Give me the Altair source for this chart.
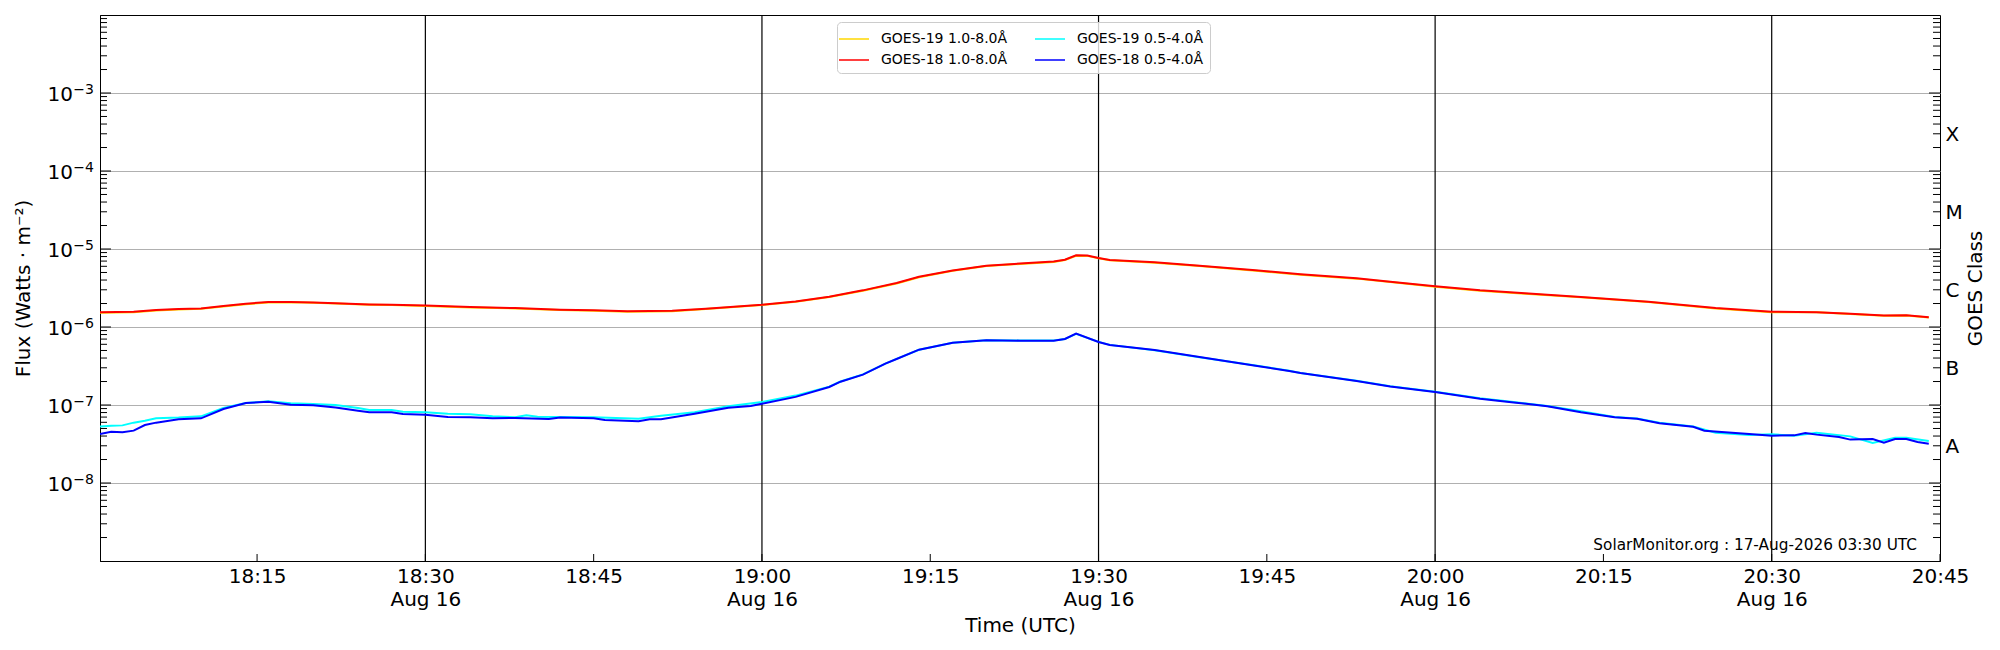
import altair as alt
import pandas as pd

DAY = "2026-08-16"
BASE_HOUR = 18

# ---- data (minutes after 18:00 UTC, flux in W m^-2) ----
G18_LONG_MIN = [1, 4, 6, 8, 10, 12, 14, 16, 18, 20, 22, 25, 27, 30, 34, 38, 42, 45, 48, 52,
                55, 60, 63, 66, 69, 72, 74, 77, 80, 83, 86, 87, 88, 89, 90, 91, 95, 99, 104, 108,
                113, 116, 120, 124, 128, 133, 139, 145, 150, 154, 157, 160, 162, 164]
G18_LONG_FLUX = [1.54e-6, 1.57e-6, 1.65e-6, 1.70e-6, 1.73e-6, 1.86e-6, 1.99e-6, 2.09e-6, 2.09e-6, 2.06e-6,
                 2.02e-6, 1.95e-6, 1.93e-6, 1.88e-6, 1.80e-6, 1.75e-6, 1.67e-6, 1.64e-6, 1.59e-6, 1.61e-6,
                 1.72e-6, 1.93e-6, 2.13e-6, 2.45e-6, 2.95e-6, 3.66e-6, 4.40e-6, 5.30e-6, 6.10e-6, 6.50e-6,
                 6.90e-6, 7.30e-6, 8.30e-6, 8.25e-6, 7.67e-6, 7.25e-6, 6.75e-6, 6.11e-6, 5.33e-6, 4.73e-6,
                 4.21e-6, 3.81e-6, 3.32e-6, 2.95e-6, 2.70e-6, 2.43e-6, 2.11e-6, 1.75e-6, 1.57e-6, 1.55e-6,
                 1.48e-6, 1.40e-6, 1.41e-6, 1.33e-6]

G19_LONG_MIN = G18_LONG_MIN
G19_LONG_FLUX = [1.52e-6, 1.55e-6, 1.63e-6, 1.68e-6, 1.71e-6, 1.83e-6, 1.96e-6, 2.06e-6, 2.07e-6, 2.04e-6,
                 2.00e-6, 1.93e-6, 1.91e-6, 1.86e-6, 1.78e-6, 1.73e-6, 1.65e-6, 1.62e-6, 1.57e-6, 1.59e-6,
                 1.70e-6, 1.91e-6, 2.11e-6, 2.42e-6, 2.92e-6, 3.62e-6, 4.35e-6, 5.25e-6, 6.04e-6, 6.44e-6,
                 6.83e-6, 7.22e-6, 8.20e-6, 8.16e-6, 7.60e-6, 7.18e-6, 6.68e-6, 6.05e-6, 5.28e-6, 4.68e-6,
                 4.17e-6, 3.77e-6, 3.29e-6, 2.92e-6, 2.67e-6, 2.41e-6, 2.09e-6, 1.73e-6, 1.55e-6, 1.54e-6,
                 1.47e-6, 1.39e-6, 1.40e-6, 1.32e-6]

G18_SHORT_MIN = [1, 2, 3, 4, 5, 6, 8, 10, 12, 14, 16, 18, 20, 22, 24, 25, 27, 28, 30, 32,
                 34, 36, 38, 41, 42, 45, 46, 49, 50, 51, 54, 57, 59, 60, 63, 66, 67, 69, 71, 72,
                 74, 77, 80, 83, 86, 87, 88, 90, 91, 95, 99, 104, 107, 108, 113, 116, 120, 124, 127, 130,
                 133, 136, 138, 140, 143, 144, 148, 150, 152, 153, 154, 156, 157, 159, 160, 161, 162, 163, 164]
G18_SHORT_FLUX = [4.25e-8, 4.55e-8, 4.46e-8, 4.69e-8, 5.54e-8, 5.94e-8, 6.55e-8, 6.75e-8, 8.89e-8, 1.06e-7,
                  1.10e-7, 1.01e-7, 9.90e-8, 9.30e-8, 8.45e-8, 8.05e-8, 8.05e-8, 7.67e-8, 7.52e-8, 7.02e-8,
                  6.95e-8, 6.75e-8, 6.81e-8, 6.62e-8, 6.89e-8, 6.75e-8, 6.43e-8, 6.18e-8, 6.55e-8, 6.55e-8,
                  7.74e-8, 9.25e-8, 9.71e-8, 1.04e-7, 1.27e-7, 1.70e-7, 1.99e-7, 2.45e-7, 3.39e-7, 3.89e-7,
                  5.12e-7, 6.30e-7, 6.75e-7, 6.68e-7, 6.68e-7, 7.02e-7, 8.22e-7, 6.43e-7, 5.88e-7, 5.07e-7,
                  4.12e-7, 3.19e-7, 2.73e-7, 2.57e-7, 2.03e-7, 1.73e-7, 1.47e-7, 1.20e-7, 1.08e-7, 9.62e-8,
                  8.05e-8, 6.95e-8, 6.68e-8, 5.82e-8, 5.27e-8, 4.69e-8, 4.25e-8, 4.04e-8, 4.08e-8, 4.38e-8,
                  4.17e-8, 3.89e-8, 3.60e-8, 3.66e-8, 3.29e-8, 3.66e-8, 3.66e-8, 3.36e-8, 3.19e-8]

G19_SHORT_MIN = [1, 2, 3, 4, 5, 6, 8, 10, 12, 14, 16, 18, 20, 22, 24, 25, 27, 28, 30, 32,
                 34, 36, 38, 39, 40, 42, 45, 49, 51, 54, 57, 60, 63, 66, 67, 69, 71, 72, 74, 77,
                 80, 83, 86, 87, 88, 90, 91, 95, 99, 104, 107, 108, 113, 116, 120, 124, 127, 130, 133, 136,
                 138, 140, 143, 145, 148, 150, 152, 154, 157, 159, 161, 162, 164]
G19_SHORT_FLUX = [5.32e-8, 5.40e-8, 5.48e-8, 5.94e-8, 6.30e-8, 6.75e-8, 6.90e-8, 7.16e-8, 9.16e-8, 1.06e-7,
                  1.114e-7, 1.05e-7, 1.03e-7, 1.00e-7, 9.16e-8, 8.63e-8, 8.63e-8, 8.22e-8, 8.05e-8, 7.74e-8,
                  7.59e-8, 7.16e-8, 6.95e-8, 7.38e-8, 7.08e-8, 7.02e-8, 6.95e-8, 6.68e-8, 7.30e-8, 8.05e-8,
                  9.62e-8, 1.09e-7, 1.32e-7, 1.72e-7, 2.00e-7, 2.47e-7, 3.40e-7, 3.90e-7, 5.10e-7, 6.30e-7,
                  6.75e-7, 6.70e-7, 6.70e-7, 7.00e-7, 8.20e-7, 6.45e-7, 5.90e-7, 5.05e-7, 4.10e-7, 3.20e-7,
                  2.75e-7, 2.58e-7, 2.04e-7, 1.74e-7, 1.48e-7, 1.217e-7, 1.09e-7, 9.70e-8, 8.30e-8, 7.00e-8,
                  6.70e-8, 5.94e-8, 5.30e-8, 4.42e-8, 4.12e-8, 4.21e-8, 4.04e-8, 4.42e-8, 3.96e-8, 3.26e-8,
                  3.81e-8, 3.81e-8, 3.45e-8]

G19_LONG = "GOES-19 1.0-8.0Å"
G18_LONG = "GOES-18 1.0-8.0Å"
G19_SHORT = "GOES-19 0.5-4.0Å"
G18_SHORT = "GOES-18 0.5-4.0Å"
# legend order (filled column by column)
LEGEND_ORDER = [G19_LONG, G18_LONG, G19_SHORT, G18_SHORT]
LEGEND_COLORS = ["#FFD700", "#FF0000", "#00FFFF", "#0000FF"]

MARKER_TIMES = ["18:30", "19:00", "19:30", "20:00", "20:30"]
TICK_TIMES = ["18:15", "18:30", "18:45", "19:00", "19:15", "19:30", "19:45",
              "20:00", "20:15", "20:30", "20:45"]
X_START, X_END = "18:01", "20:45"
Y_MIN, Y_MAX = 1e-9, 1e-2
Y_LABEL_VALUES = [1e-8, 1e-7, 1e-6, 1e-5, 1e-4, 1e-3]
Y_LABEL_EXP = ["−8", "−7", "−6", "−5", "−4", "−3"]
MAJOR_TICKS = [1e-8, 1e-7, 1e-6, 1e-5, 1e-4, 1e-3]
MINOR_TICKS = [k * 10.0 ** e for e in range(-9, -2) for k in range(2, 10)]
CLASS_POS = [3.1623e-8, 3.1623e-7, 3.1623e-6, 3.1623e-5, 3.1623e-4]
CLASS_LETTERS = ["A", "B", "C", "M", "X"]
ANNOTATION = "SolarMonitor.org : 17-Aug-2026 03:30 UTC"

FONT = "DejaVu Sans"
W, H = 1840, 546


def iso(minute):
    h, m = divmod(minute, 60)
    return f"{DAY}T{BASE_HOUR + h:02d}:{m:02d}:00Z"


def iso_hm(s):
    h, m = s.split(":")
    return f"{DAY}T{int(h):02d}:{int(m):02d}:00Z"


def dt(s):
    h, m = s.split(":")
    return alt.DateTime(year=2026, month=8, date=16, hours=int(h), minutes=int(m), utc=True)


def ysc():
    return alt.Scale(type="log", domain=[Y_MIN, Y_MAX], nice=False)


def series_df(name, mins, flux):
    return pd.DataFrame({"t": [iso(m) for m in mins], "flux": flux, "series": name})


x_axis = alt.Axis(
    values=[dt(s) for s in TICK_TIMES],
    labelExpr="utcminutes(datum.value) % 30 == 0 ? [utcFormat(datum.value, '%H:%M'), utcFormat(datum.value, '%b %d')] : utcFormat(datum.value, '%H:%M')",
    tickSize=0, labelPadding=5, labelFlush=False, labelOverlap=False, labelBound=False,
    labelLineHeight=23, grid=False, title="Time (UTC)",
    titleX=W / 2, titleY=70, titleBaseline="alphabetic", titleAlign="center",
)
xenc = alt.X("t:T", scale=alt.Scale(type="utc", domain=[dt(X_START), dt(X_END)]), axis=x_axis)

color = alt.Color(
    "series:N",
    scale=alt.Scale(domain=LEGEND_ORDER, range=LEGEND_COLORS),
    legend=alt.Legend(
        title=None, orient="none", legendX=737, legendY=7, columns=2,
        symbolType="M-1.5,0L1.5,0", symbolSize=400, symbolStrokeWidth=1.5,
        labelFontSize=14, labelFont=FONT, labelOffset=16, labelLimit=0,
        columnPadding=24, rowPadding=3, padding=6,
        fillColor="rgba(255,255,255,0.8)", strokeColor="#cccccc", cornerRadius=4,
    ),
)

left_axis = alt.Axis(
    values=Y_LABEL_VALUES, labels=False,
    tickSize=0, grid=True, gridColor="#b0b0b0", gridWidth=1,
    title="Flux (Watts · m⁻²)", titleX=-77, titleY=H / 2, titleAngle=270,
    titleBaseline="middle", titleAlign="center",
)

right_axis = alt.Axis(
    orient="right", values=CLASS_POS,
    labelExpr="[" + ",".join("'" + s + "'" for s in CLASS_LETTERS) + "][round(log(datum.value)/LN10+7.5)]",
    tickSize=0, labelPadding=5, labelBaseline="middle", labelOffset=3,
    grid=False, domain=False,
    title="GOES Class", titleX=35, titleY=H / 2, titleAngle=270,
    titleBaseline="middle", titleAlign="center",
)

vlines = alt.Chart(pd.DataFrame({"t": [iso_hm(s) for s in MARKER_TIMES]})).mark_rule(
    color="black", strokeWidth=1.2
).encode(x=xenc)

order = [
    (G19_LONG, G19_LONG_MIN, G19_LONG_FLUX),
    (G19_SHORT, G19_SHORT_MIN, G19_SHORT_FLUX),
    (G18_LONG, G18_LONG_MIN, G18_LONG_FLUX),
    (G18_SHORT, G18_SHORT_MIN, G18_SHORT_FLUX),
]
line_layers = []
for i, (name, mins, flux) in enumerate(order):
    yax = left_axis if i == 0 else None
    line_layers.append(
        alt.Chart(series_df(name, mins, flux)).mark_line(strokeWidth=2, clip=True).encode(
            x=xenc,
            y=alt.Y("flux:Q", scale=ysc(), axis=yax),
            color=color,
        )
    )

minor_df = pd.DataFrame({"v": MINOR_TICKS})
major_df = pd.DataFrame({"v": MAJOR_TICKS})

left_minor = alt.Chart(minor_df).mark_rule(color="black", strokeWidth=1).encode(
    y=alt.Y("v:Q", scale=ysc(), axis=None), x=alt.value(0), x2=alt.value(7))
left_major = alt.Chart(major_df).mark_rule(color="black", strokeWidth=1).encode(
    y=alt.Y("v:Q", scale=ysc(), axis=None), x=alt.value(0), x2=alt.value(11))
right_minor = alt.Chart(minor_df).mark_rule(color="black", strokeWidth=1).encode(
    y=alt.Y("v:Q", scale=ysc(), axis=right_axis), x=alt.value(W), x2=alt.value(W - 7))
right_major = alt.Chart(major_df).mark_rule(color="black", strokeWidth=1).encode(
    y=alt.Y("v:Q", scale=ysc(), axis=None), x=alt.value(W), x2=alt.value(W - 11))

ylab_df = pd.DataFrame({"v": Y_LABEL_VALUES, "exp": Y_LABEL_EXP})
ylab_base = alt.Chart(ylab_df).mark_text(
    text="10", align="right", baseline="alphabetic", fontSize=20, font=FONT, color="black", dy=8
).encode(y=alt.Y("v:Q", scale=ysc(), axis=None), x=alt.value(-27))
ylab_exp = alt.Chart(ylab_df).mark_text(
    align="right", baseline="alphabetic", fontSize=14, font=FONT, color="black", dy=1
).encode(y=alt.Y("v:Q", scale=ysc(), axis=None), x=alt.value(-6), text="exp:N")

xticks = alt.Chart(pd.DataFrame({"t": [iso_hm(s) for s in TICK_TIMES]})).mark_rule(
    color="black", strokeWidth=1
).encode(x=xenc, y=alt.value(H), y2=alt.value(H - 7))

annot = alt.Chart(pd.DataFrame({"label": [ANNOTATION]})).mark_text(
    align="right", baseline="alphabetic", fontSize=15.3, font=FONT, color="black"
).encode(x=alt.value(W - 23), y=alt.value(H - 11), text="label:N")

chart = alt.layer(
    vlines, *line_layers, left_minor, left_major, right_minor, right_major,
    ylab_base, ylab_exp, xticks, annot
).resolve_scale(y="independent").properties(
    width=W, height=H,
    padding={"left": 92, "top": 7, "right": 52, "bottom": 80},
    autosize=alt.AutoSizeParams(type="none"),
    background="white",
).configure_view(
    stroke="black", strokeWidth=1
).configure_axis(
    labelFont=FONT, titleFont=FONT, labelFontSize=20, titleFontSize=20,
    titleFontWeight="normal", labelColor="black", titleColor="black",
    domainColor="black", tickColor="black", domainWidth=1,
).configure_legend(
    labelFont=FONT, labelColor="black"
)

chart.save("out.html", embed_options={"renderer": "svg", "actions": False})
